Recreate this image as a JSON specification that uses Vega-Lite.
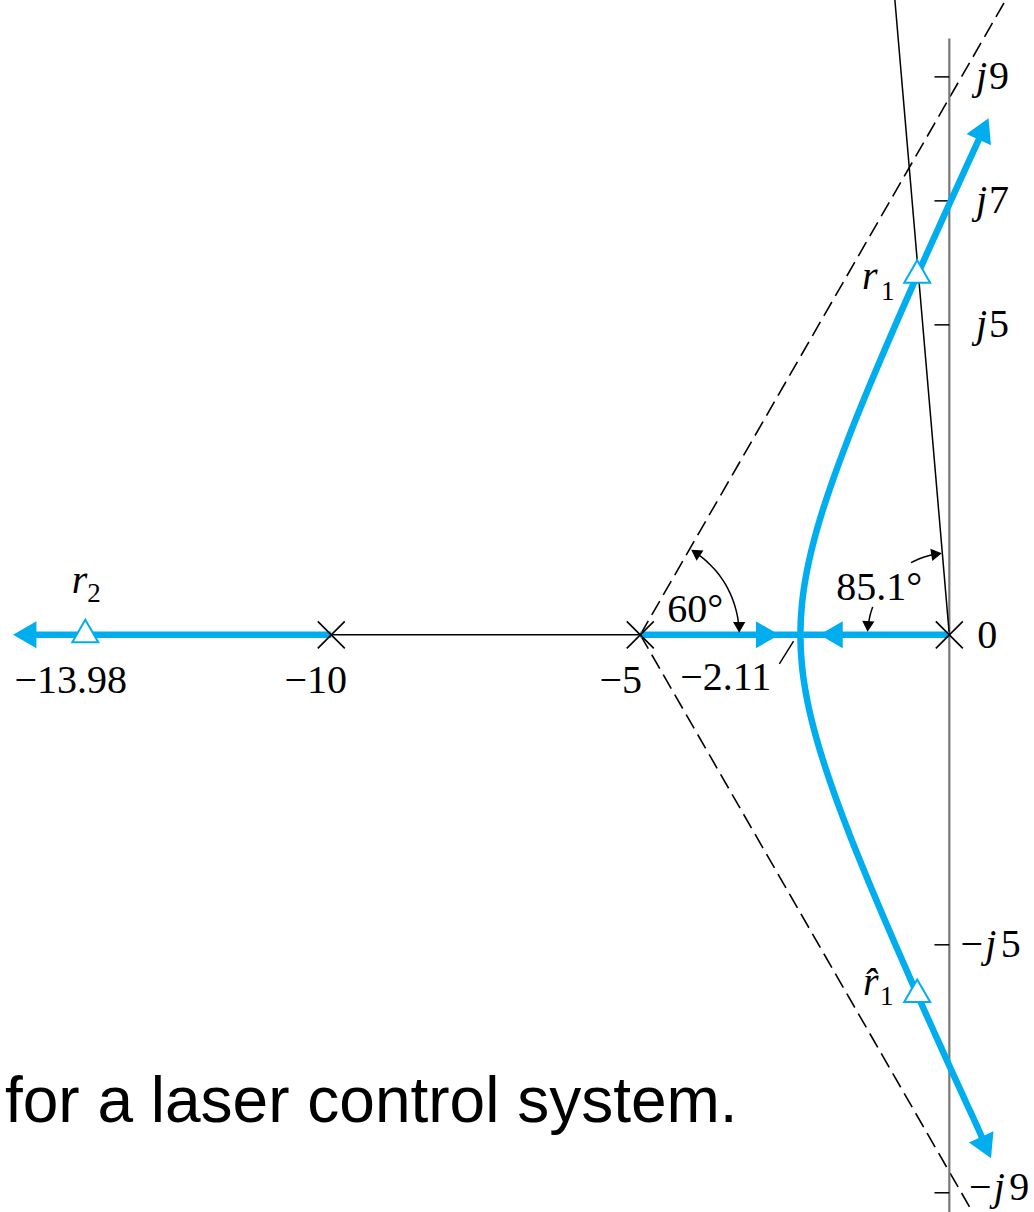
{
  "$schema": "https://vega.github.io/schema/vega-lite/v6.json",
  "width": 1034,
  "height": 1212,
  "autosize": {"type": "none"},
  "padding": 0,
  "background": "white",
  "config": {"view": {"stroke": null}},
  "datasets": {
    "segments": [
      {"kind": "asymptote", "x": -5, "y": 0, "x2": 0.912, "y2": 10.24},
      {"kind": "asymptote", "x": -5, "y": 0, "x2": 0.375, "y2": -9.31},
      {"kind": "imag", "x": 0, "y": 9.62, "x2": 0, "y2": -9.4},
      {"kind": "thin", "x": -10, "y": 0, "x2": -5, "y2": 0},
      {"kind": "thin", "x": 0, "y": 0, "x2": -0.881, "y2": 10.24},
      {"kind": "thin", "x": -2.75, "y": -0.47, "x2": -2.52, "y2": -0.1},
      {"kind": "thin", "x": -0.24, "y": 9, "x2": 0, "y2": 9},
      {"kind": "thin", "x": -0.24, "y": 7, "x2": 0, "y2": 7},
      {"kind": "thin", "x": -0.24, "y": 5, "x2": 0, "y2": 5},
      {"kind": "thin", "x": -0.24, "y": -5, "x2": 0, "y2": -5},
      {"kind": "thin", "x": -0.24, "y": -9, "x2": 0, "y2": -9},
      {"kind": "locus", "x": -14.96, "y": 0, "x2": -10, "y2": 0},
      {"kind": "locus", "x": -5, "y": 0, "x2": 0, "y2": 0}
    ],
    "curve": [
      {"i": 1, "x": 0.555, "y": 8.16},
      {"i": 2, "x": 0.482, "y": 8.0},
      {"i": 3, "x": 0.252, "y": 7.5},
      {"i": 4, "x": 0.023, "y": 7.0},
      {"i": 5, "x": -0.204, "y": 6.5},
      {"i": 6, "x": -0.43, "y": 6.0},
      {"i": 7, "x": -0.652, "y": 5.5},
      {"i": 8, "x": -0.872, "y": 5.0},
      {"i": 9, "x": -1.088, "y": 4.5},
      {"i": 10, "x": -1.299, "y": 4.0},
      {"i": 11, "x": -1.504, "y": 3.5},
      {"i": 12, "x": -1.699, "y": 3.0},
      {"i": 13, "x": -1.883, "y": 2.5},
      {"i": 14, "x": -2.051, "y": 2.0},
      {"i": 15, "x": -2.196, "y": 1.5},
      {"i": 16, "x": -2.31, "y": 1.0},
      {"i": 17, "x": -2.384, "y": 0.5},
      {"i": 18, "x": -2.41, "y": 0},
      {"i": 19, "x": -2.384, "y": -0.5},
      {"i": 20, "x": -2.31, "y": -1.0},
      {"i": 21, "x": -2.196, "y": -1.5},
      {"i": 22, "x": -2.051, "y": -2.0},
      {"i": 23, "x": -1.883, "y": -2.5},
      {"i": 24, "x": -1.699, "y": -3.0},
      {"i": 25, "x": -1.504, "y": -3.5},
      {"i": 26, "x": -1.299, "y": -4.0},
      {"i": 27, "x": -1.088, "y": -4.5},
      {"i": 28, "x": -0.872, "y": -5.0},
      {"i": 29, "x": -0.652, "y": -5.5},
      {"i": 30, "x": -0.43, "y": -6.0},
      {"i": 31, "x": -0.204, "y": -6.5},
      {"i": 32, "x": 0.023, "y": -7.0},
      {"i": 33, "x": 0.252, "y": -7.5},
      {"i": 34, "x": 0.482, "y": -8.0},
      {"i": 35, "x": 0.595, "y": -8.27}
    ],
    "arcs": [
      {"arc": "sixty", "i": 1, "x": -3.406, "y": 0.139},
      {"arc": "sixty", "i": 2, "x": -3.424, "y": 0.278},
      {"arc": "sixty", "i": 3, "x": -3.455, "y": 0.414},
      {"arc": "sixty", "i": 4, "x": -3.496, "y": 0.547},
      {"arc": "sixty", "i": 5, "x": -3.55, "y": 0.676},
      {"arc": "sixty", "i": 6, "x": -3.614, "y": 0.8},
      {"arc": "sixty", "i": 7, "x": -3.689, "y": 0.918},
      {"arc": "sixty", "i": 8, "x": -3.774, "y": 1.028},
      {"arc": "sixty", "i": 9, "x": -3.869, "y": 1.131},
      {"arc": "sixty", "i": 10, "x": -3.972, "y": 1.226},
      {"arc": "sixty", "i": 11, "x": -4.082, "y": 1.311},
      {"arc": "damp_upper", "i": 1, "x": -0.62, "y": 1.165},
      {"arc": "damp_upper", "i": 2, "x": -0.4945, "y": 1.224},
      {"arc": "damp_upper", "i": 3, "x": -0.364, "y": 1.269},
      {"arc": "damp_upper", "i": 4, "x": -0.229, "y": 1.3},
      {"arc": "damp_lower", "i": 1, "x": -1.24, "y": 0.451},
      {"arc": "damp_lower", "i": 2, "x": -1.281, "y": 0.319},
      {"arc": "damp_lower", "i": 3, "x": -1.307, "y": 0.184},
      {"arc": "damp_lower", "i": 4, "x": -1.313, "y": 0.138}
    ],
    "locusArrows": [
      {"x": -14.96, "y": 0, "angle": 180},
      {"x": -2.94, "y": 0, "angle": 0},
      {"x": -1.914, "y": 0, "angle": 180},
      {"x": 0.555, "y": 8.16, "angle": 294.8},
      {"x": 0.595, "y": -8.27, "angle": 65.2}
    ],
    "noteArrows": [
      {"x": -3.4, "y": 0.12, "angle": 90},
      {"x": -4.105, "y": 1.326, "angle": 214},
      {"x": -0.2065, "y": 1.3037, "angle": 351},
      {"x": -1.317, "y": 0.135, "angle": 94}
    ],
    "poles": [
      {"x": 0, "y": 0},
      {"x": -5, "y": 0},
      {"x": -10, "y": 0}
    ],
    "roots": [
      {"root": "r2", "x": -13.98, "y": 0},
      {"root": "r1", "x": -0.52, "y": 5.8},
      {"root": "r1 conj", "x": -0.52, "y": -5.8}
    ],
    "numbers": [
      {"label": "−13.98", "x": -14.215, "y": -0.934},
      {"label": "−10", "x": -10.25, "y": -0.934},
      {"label": "−5", "x": -5.316, "y": -0.944},
      {"label": "−2.11", "x": -3.617, "y": -0.89},
      {"label": "0", "x": 0.615, "y": -0.218},
      {"label": "60°", "x": -4.11, "y": 0.211},
      {"label": "85.1°", "x": -1.134, "y": 0.561}
    ],
    "italics": [
      {"label": "r", "x": -14.2, "y": 0.674},
      {"label": "r", "x": -1.413, "y": 5.577},
      {"label": "r̂", "x": -1.396, "y": -5.81},
      {"label": "j", "x": 0.43, "y": 8.8},
      {"label": "j", "x": 0.43, "y": 6.8},
      {"label": "j", "x": 0.43, "y": 4.8},
      {"label": "j", "x": 0.58, "y": -5.2},
      {"label": "j", "x": 0.72, "y": -9.12}
    ],
    "romans": [
      {"label": "9", "x": 0.64, "y": 8.8},
      {"label": "7", "x": 0.64, "y": 6.8},
      {"label": "5", "x": 0.64, "y": 4.8},
      {"label": "−", "x": 0.18, "y": -5.2},
      {"label": "5", "x": 0.83, "y": -5.2},
      {"label": "−", "x": 0.32, "y": -9.12},
      {"label": "9", "x": 0.97, "y": -9.12}
    ],
    "subscripts": [
      {"label": "2", "x": -13.95, "y": 0.534},
      {"label": "1", "x": -1.105, "y": 5.4},
      {"label": "1", "x": -1.123, "y": -5.97}
    ],
    "caption": [
      {"label": "for a laser control system.", "x": -15.28, "y": -7.86}
    ]
  },
  "encoding": {
    "x": {"field": "x", "type": "quantitative", "scale": {"domain": [-15.36, 1.37], "nice": false, "zero": false}, "axis": null},
    "y": {"field": "y", "type": "quantitative", "scale": {"domain": [-9.31, 10.24], "nice": false, "zero": false}, "axis": null}
  },
  "layer": [
    {
      "data": {"name": "segments"},
      "transform": [{"filter": "datum.kind === 'asymptote'"}],
      "mark": {"type": "rule", "color": "black", "strokeWidth": 1.6, "strokeDash": [16, 7]},
      "encoding": {"x2": {"field": "x2"}, "y2": {"field": "y2"}}
    },
    {
      "data": {"name": "segments"},
      "transform": [{"filter": "datum.kind === 'imag'"}],
      "mark": {"type": "rule", "color": "#777777", "strokeWidth": 2.2},
      "encoding": {"x2": {"field": "x2"}, "y2": {"field": "y2"}}
    },
    {
      "data": {"name": "segments"},
      "transform": [{"filter": "datum.kind === 'thin'"}],
      "mark": {"type": "rule", "color": "black", "strokeWidth": 1.5},
      "encoding": {"x2": {"field": "x2"}, "y2": {"field": "y2"}}
    },
    {
      "data": {"name": "segments"},
      "transform": [{"filter": "datum.kind === 'locus'"}],
      "mark": {"type": "rule", "color": "#00AEEF", "strokeWidth": 6.5},
      "encoding": {"x2": {"field": "x2"}, "y2": {"field": "y2"}}
    },
    {
      "data": {"name": "curve"},
      "mark": {"type": "line", "color": "#00AEEF", "strokeWidth": 6.5, "interpolate": "catmull-rom"},
      "encoding": {"order": {"field": "i", "type": "quantitative"}}
    },
    {
      "data": {"name": "arcs"},
      "mark": {"type": "line", "color": "black", "strokeWidth": 1.5, "interpolate": "catmull-rom"},
      "encoding": {"detail": {"field": "arc"}, "order": {"field": "i", "type": "quantitative"}}
    },
    {
      "data": {"name": "locusArrows"},
      "mark": {"type": "point", "shape": "triangle-right", "filled": true, "fill": "#00AEEF", "strokeWidth": 0, "opacity": 1, "size": 729},
      "encoding": {"angle": {"field": "angle", "type": "quantitative", "scale": null}}
    },
    {
      "data": {"name": "noteArrows"},
      "mark": {"type": "point", "shape": "triangle-right", "filled": true, "fill": "black", "strokeWidth": 0, "opacity": 1, "size": 150},
      "encoding": {"angle": {"field": "angle", "type": "quantitative", "scale": null}}
    },
    {
      "data": {"name": "poles"},
      "mark": {"type": "point", "shape": "M-1,-1L1,1M-1,1L1,-1", "filled": false, "stroke": "black", "strokeWidth": 1.6, "opacity": 1, "size": 729}
    },
    {
      "data": {"name": "roots"},
      "mark": {"type": "point", "shape": "M0,-1.155L1,0.577L-1,0.577Z", "filled": true, "fill": "white", "stroke": "#00AEEF", "strokeWidth": 2, "opacity": 1, "size": 676}
    },
    {
      "data": {"name": "numbers"},
      "mark": {"type": "text", "font": "Liberation Serif", "fontSize": 40, "align": "center", "baseline": "alphabetic", "color": "black"},
      "encoding": {"text": {"field": "label"}}
    },
    {
      "data": {"name": "italics"},
      "mark": {"type": "text", "font": "Liberation Serif", "fontStyle": "italic", "fontSize": 40, "align": "left", "baseline": "alphabetic", "color": "black"},
      "encoding": {"text": {"field": "label"}}
    },
    {
      "data": {"name": "romans"},
      "mark": {"type": "text", "font": "Liberation Serif", "fontSize": 40, "align": "left", "baseline": "alphabetic", "color": "black"},
      "encoding": {"text": {"field": "label"}}
    },
    {
      "data": {"name": "subscripts"},
      "mark": {"type": "text", "font": "Liberation Serif", "fontSize": 27, "align": "left", "baseline": "alphabetic", "color": "black"},
      "encoding": {"text": {"field": "label"}}
    },
    {
      "data": {"name": "caption"},
      "mark": {"type": "text", "font": "Liberation Sans", "fontSize": 64, "align": "left", "baseline": "alphabetic", "color": "black"},
      "encoding": {"text": {"field": "label"}}
    }
  ]
}
